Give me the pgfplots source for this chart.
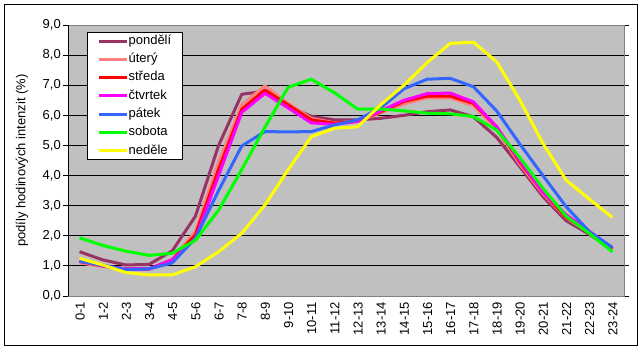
\documentclass[border=0pt]{standalone}
\usepackage{pgfplots}
\pgfplotsset{compat=1.18}
\usepackage{pgfplotstable}
\usepackage{fontspec}
\setmainfont{Liberation Sans}
\definecolor{cpon}{HTML}{993366}
\definecolor{cute}{HTML}{FF8080}
\definecolor{cstr}{HTML}{FF0000}
\definecolor{cctv}{HTML}{FF00FF}
\definecolor{cpat}{HTML}{3366FF}
\definecolor{csob}{HTML}{00FF00}
\definecolor{cned}{HTML}{FFFF00}
\definecolor{cbg}{HTML}{C0C0C0}
\definecolor{cbrd}{HTML}{808080}
\pgfplotstableread{
x pon ute str ctv pat sob ned
0.5 1.47 1.10 1.15 1.20 1.15 1.93 1.25
1.5 1.20 0.98 1.00 1.00 1.02 1.68 1.03
2.5 1.03 0.88 0.90 0.90 0.88 1.49 0.78
3.5 1.05 0.88 0.90 0.90 0.90 1.35 0.70
4.5 1.50 1.22 1.20 1.20 1.10 1.42 0.70
5.5 2.65 2.15 2.03 1.90 1.92 1.85 0.97
6.5 5.00 4.45 4.20 4.00 3.50 2.85 1.47
7.5 6.70 6.35 6.20 6.10 4.98 4.20 2.08
8.5 6.80 6.98 6.84 6.73 5.46 5.60 3.02
9.5 6.30 6.40 6.35 6.25 5.45 6.93 4.19
10.5 5.97 5.90 5.85 5.75 5.46 7.20 5.29
11.5 5.85 5.75 5.74 5.70 5.68 6.75 5.57
12.5 5.85 5.80 5.80 5.80 5.85 6.21 5.62
13.5 5.90 6.08 6.12 6.15 6.25 6.21 6.35
14.5 6.00 6.38 6.46 6.50 6.88 6.15 7.00
15.5 6.12 6.58 6.64 6.72 7.20 6.07 7.75
16.5 6.18 6.58 6.64 6.74 7.23 6.05 8.39
17.5 5.95 6.32 6.40 6.45 6.95 5.96 8.43
18.5 5.27 5.55 5.62 5.62 6.15 5.51 7.78
19.5 4.30 4.38 4.45 4.50 5.05 4.60 6.51
20.5 3.30 3.40 3.45 3.45 4.00 3.58 5.07
21.5 2.50 2.60 2.62 2.70 2.97 2.65 3.85
22.5 2.05 2.10 2.12 2.15 2.14 2.08 3.22
23.5 1.55 1.57 1.58 1.60 1.61 1.47 2.61
}\data
\begin{document}
\begin{tikzpicture}
\useasboundingbox (-68bp,-55bp) rectangle (575bp,296bp);
\fill[white] (-68bp,-55bp) rectangle (575bp,296bp);
\draw[black, line width=1bp] (-63bp,-49.5bp) rectangle (569bp,291bp);
\begin{axis}[
  at={(0,0)}, anchor=south west,
  scale only axis, width=556bp, height=271bp,
  xmin=0, xmax=24, ymin=0, ymax=9,
  axis background/.style={fill=cbg},
  axis line style={draw=cbrd, line width=0.8bp},
  font=\fontsize{13bp}{15bp}\selectfont,
  ytick={0,1,...,9},
  ymajorgrids, grid style={black, line width=0.8bp},
  xtick={0.5,1.5,...,23.5},
  xticklabels={0-1,1-2,2-3,3-4,4-5,5-6,6-7,7-8,8-9,9-10,10-11,11-12,12-13,13-14,14-15,15-16,16-17,17-18,18-19,19-20,20-21,21-22,22-23,23-24},
  xtick style={draw=none},
  minor xtick={0,1,...,24},
  minor x tick style={black, line width=0.8bp},
  ytick style={black, line width=0.8bp},
  tick align=outside,
  major tick length=5bp, minor tick length=5bp,
  xticklabel style={rotate=90, anchor=east, inner sep=1bp, yshift=-0.5bp, font=\fontsize{13bp}{15bp}\selectfont},
  yticklabel style={font=\fontsize{13bp}{15bp}\selectfont, inner sep=2bp},
  /pgf/number format/.cd, fixed, fixed zerofill, precision=1, use comma, assume math mode=true,
  /pgfplots/.cd,
  ylabel={podíly hodinových intenzit (\%)},
  ylabel style={font=\fontsize{13bp}{15bp}\selectfont, at={(axis description cs:-0.083,0.5)}, anchor=center, rotate=0},
  legend style={at={(0.034,0.974)}, anchor=north west, draw=black, fill=white,
    font=\fontsize{13bp}{15bp}\selectfont, inner xsep=10bp, inner ysep=2.5bp,
    row sep=5.8bp,
    nodes={inner xsep=0.5bp, inner ysep=0bp, text height=9.5bp, text depth=3bp}},
  legend cell align=left,
  legend image code/.code={\draw[#1] (0bp,0bp) -- (28bp,0bp);},
  every axis plot/.append style={line width=3bp, line join=round, no markers},
]
\addplot[cpon] table[x=x,y=pon]{\data};
\addplot[cute] table[x=x,y=ute]{\data};
\addplot[cstr] table[x=x,y=str]{\data};
\addplot[cctv] table[x=x,y=ctv]{\data};
\addplot[cpat] table[x=x,y=pat]{\data};
\addplot[csob] table[x=x,y=sob]{\data};
\addplot[cned] table[x=x,y=ned]{\data};
\legend{pondělí,úterý,středa,čtvrtek,pátek,sobota,neděle}
\draw[black, line width=0.8bp] (rel axis cs:0,0) -- (rel axis cs:0,1);
\end{axis}
\end{tikzpicture}
\end{document}
